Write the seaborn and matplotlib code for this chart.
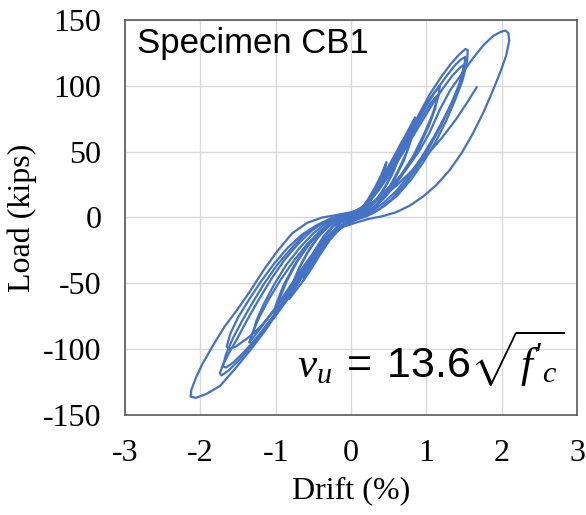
import numpy as np
import pandas as pd
import matplotlib
matplotlib.use('Agg')
import matplotlib.pyplot as plt
import seaborn as sns

# Cyclic test record, read off the picture cycle by cycle (drift %, load kips)
# 0.25 % cycles
a1_drift = [0, 0.07, 0.14, 0.21, 0.27, 0.25, 0.18, 0.10, 0.02, -0.06, -0.14, -0.21, -0.27, -0.25, -0.18, -0.10, 0]
a1_load = [0, 3, 7, 11, 16, 12, 6, 2, -1, -4, -8, -12, -16, -12, -6, -2, 0]
a2_drift = [0, 0.08, 0.16, 0.22, 0.26, 0.23, 0.15, 0.05, -0.05, -0.15, -0.22, -0.26, -0.23, -0.14, -0.05, 0]
a2_load = [0, 3, 8, 12, 15, 10, 4, 0, -3, -8, -12, -15, -10, -4, -1, 0]

# 0.5 % cycles
b1_drift = [0, 0.08, 0.16, 0.24, 0.32, 0.40, 0.47, 0.45, 0.40, 0.32, 0.22, 0.12, 0.02, -0.08, -0.18, -0.28,
            -0.38, -0.48, -0.56, -0.63, -0.61, -0.55, -0.46, -0.36, -0.25, -0.14, -0.05, 0]
b1_load = [0, 3, 8, 15, 23, 32, 42, 36, 27, 18, 10, 4, 0, -4, -9, -15,
           -23, -32, -40, -48, -42, -33, -23, -14, -7, -2, 0, 1]
b2_drift = [0, 0.10, 0.20, 0.30, 0.38, 0.45, 0.42, 0.34, 0.24, 0.13, 0.03, -0.08, -0.20, -0.32, -0.44, -0.53,
            -0.60, -0.57, -0.48, -0.36, -0.24, -0.12, 0]
b2_load = [1, 4, 10, 19, 28, 37, 30, 20, 11, 5, 0, -4, -10, -19, -29, -37,
           -44, -37, -26, -15, -7, -1, 1]

# 0.75 % cycles
c1_drift = [0, 0.10, 0.22, 0.34, 0.46, 0.57, 0.68, 0.66, 0.58, 0.47, 0.35, 0.22, 0.10, -0.02, -0.14, -0.28,
            -0.42, -0.56, -0.70, -0.82, -0.79, -0.70, -0.58, -0.44, -0.30, -0.16, -0.05, 0]
c1_load = [1, 4, 12, 22, 34, 46, 58, 50, 37, 25, 14, 6, 1, -3, -8, -17,
           -29, -42, -53, -62, -53, -40, -27, -15, -7, -1, 1, 2]
c2_drift = [0, 0.11, 0.23, 0.35, 0.47, 0.57, 0.66, 0.63, 0.54, 0.42, 0.29, 0.16, 0.04, -0.08, -0.22, -0.37,
            -0.52, -0.66, -0.80, -0.76, -0.66, -0.53, -0.38, -0.23, -0.09, 0]
c2_load = [1, 5, 13, 24, 36, 46, 54, 45, 32, 20, 10, 4, 0, -4, -10, -20,
           -33, -46, -58, -48, -35, -22, -11, -3, 1, 2]

# 1.0 % cycles
d1_drift = [0, 0.12, 0.25, 0.38, 0.50, 0.62, 0.74, 0.85, 0.83, 0.75, 0.63, 0.50, 0.36, 0.22, 0.08, -0.05,
            -0.18, -0.33, -0.50, -0.66, -0.80, -0.93, -1.03, -1.00, -0.90, -0.76, -0.60, -0.44, -0.28, -0.13, 0]
d1_load = [2, 6, 13, 24, 37, 51, 64, 76, 66, 51, 36, 22, 11, 4, 0, -4,
           -9, -18, -32, -46, -59, -69, -77, -67, -52, -37, -23, -12, -4, 0, 2]
d2_drift = [0, 0.13, 0.27, 0.40, 0.53, 0.65, 0.75, 0.82, 0.79, 0.70, 0.57, 0.43, 0.29, 0.15, 0.02, -0.12,
            -0.27, -0.43, -0.60, -0.75, -0.88, -0.98, -0.95, -0.85, -0.71, -0.55, -0.39, -0.23, -0.09, 0]
d2_load = [2, 7, 15, 26, 39, 52, 63, 70, 58, 43, 28, 16, 7, 2, -2, -7,
           -14, -26, -40, -53, -64, -72, -62, -48, -33, -20, -10, -3, 1, 2]

# 1.25 % cycles
g1_drift = [0, 0.15, 0.30, 0.45, 0.60, 0.75, 0.89, 1.02, 1.12, 1.18, 1.16, 1.08, 0.96, 0.82, 0.66, 0.50, 0.34,
            0.18, 0.04, -0.10, -0.26, -0.44, -0.64, -0.84, -1.03, -1.20, -1.31, -1.35, -1.31, -1.22, -1.09,
            -0.93, -0.76, -0.58, -0.40, -0.22, -0.07, 0]
g1_load = [2, 7, 16, 29, 44, 60, 75, 88, 96, 100, 92, 78, 62, 46, 32, 19, 9,
           3, -1, -5, -11, -22, -38, -55, -71, -84, -92, -95, -88, -76, -62,
           -47, -33, -20, -10, -3, 1, 2]
g2_drift = [0, 0.16, 0.32, 0.48, 0.64, 0.80, 0.94, 1.06, 1.15, 1.12, 1.03, 0.90, 0.75, 0.59, 0.43, 0.27, 0.12,
            -0.02, -0.17, -0.34, -0.53, -0.73, -0.93, -1.11, -1.24, -1.30, -1.26, -1.16, -1.02, -0.86, -0.68,
            -0.50, -0.32, -0.15, 0]
g2_load = [2, 8, 18, 31, 46, 62, 76, 87, 93, 83, 69, 53, 38, 25, 14, 6, 1,
           -3, -8, -17, -31, -47, -63, -77, -86, -88, -79, -66, -51, -36, -23,
           -12, -4, 0, 2]

# 1.5 % cycles
e1_drift = [0, 0.15, 0.30, 0.45, 0.60, 0.75, 0.90, 1.05, 1.20, 1.33, 1.44, 1.52, 1.55, 1.54, 1.48, 1.38, 1.26,
            1.12, 0.96, 0.80, 0.62, 0.45, 0.28, 0.12, -0.02, -0.16, -0.32, -0.50, -0.70, -0.90, -1.10, -1.30,
            -1.48, -1.62, -1.72, -1.74, -1.70, -1.62, -1.51, -1.38, -1.22, -1.05, -0.88, -0.70, -0.52, -0.34, -0.16, 0]
e1_load = [3, 7, 16, 29, 44, 61, 78, 94, 107, 117, 124, 128, 127, 118, 104, 89, 73,
           57, 42, 29, 17, 9, 3, 0, -3, -8, -16, -29, -46, -64, -81, -96,
           -108, -116, -120, -118, -112, -103, -92, -78, -62, -46, -32, -20, -10, -3, 1, 3]
e2_drift = [0, 0.16, 0.32, 0.48, 0.64, 0.80, 0.96, 1.11, 1.25, 1.37, 1.46, 1.52, 1.50, 1.43, 1.32, 1.19, 1.04,
            0.88, 0.71, 0.54, 0.37, 0.21, 0.06, -0.08, -0.24, -0.42, -0.62, -0.82, -1.02, -1.22, -1.40, -1.56,
            -1.66, -1.70, -1.66, -1.57, -1.45, -1.31, -1.15, -0.98, -0.80, -0.62, -0.44, -0.26, -0.10, 0]
e2_load = [3, 8, 18, 32, 48, 65, 81, 95, 106, 115, 120, 122, 114, 100, 85, 69, 53,
           38, 25, 14, 6, 1, -2, -6, -12, -23, -39, -57, -74, -89, -101, -110,
           -114, -113, -104, -92, -79, -65, -50, -36, -24, -13, -6, -1, 2, 3]
e3_drift = [0, 0.18, 0.36, 0.54, 0.72, 0.90, 1.07, 1.22, 1.35, 1.45, 1.50, 1.47, 1.38, 1.25, 1.10, 0.94, 0.77,
            0.60, 0.43, 0.26, 0.10, -0.05, -0.22, -0.40, -0.60, -0.80, -1.00, -1.20, -1.38, -1.53, -1.62, -1.65,
            -1.60, -1.50, -1.36, -1.20, -1.02, -0.84, -0.65, -0.46, -0.28, -0.12, 0]
e3_load = [3, 9, 20, 35, 52, 69, 85, 98, 108, 114, 116, 106, 92, 77, 61, 46, 32,
           20, 11, 4, 0, -4, -10, -20, -35, -52, -69, -83, -92, -98, -100, -98,
           -88, -76, -63, -49, -35, -23, -13, -6, -1, 2, 3]

# 2.0 % cycle and the last partial excursion
f1_drift = [0, 0.15, 0.30, 0.45, 0.60, 0.75, 0.90, 1.04, 1.18, 1.32, 1.47, 1.62, 1.76, 1.89, 1.99, 2.05, 2.09, 2.10,
            2.06, 1.98, 1.88, 1.76, 1.62, 1.47, 1.31, 1.14, 0.96, 0.78, 0.60, 0.42, 0.24, 0.06, -0.10, -0.26,
            -0.42, -0.58, -0.76, -0.95, -1.14, -1.34, -1.54, -1.74, -1.92, -2.06, -2.13, -2.12, -2.06, -1.97,
            -1.84, -1.68, -1.51, -1.34, -1.16, -0.97, -0.78, -0.58, -0.38, -0.18, 0]
f1_load = [3, 7, 12, 20, 28, 38, 50, 64, 82, 97, 109, 121, 131, 138, 141, 142, 140, 134,
           123, 110, 96, 80, 64, 49, 36, 25, 16, 9, 4, 1, -1, -4, -7, -13,
           -25, -38, -53, -70, -86, -101, -115, -128, -134, -137, -136, -131, -122, -111,
           -98, -83, -70, -56, -40, -25, -12, -4, 0, 2, 4]
f2_drift = [0, 0.20, 0.40, 0.60, 0.80, 1.00, 1.20, 1.40, 1.55, 1.67]
f2_load = [4, 8, 15, 24, 35, 47, 60, 75, 88, 99]

cycles = [(a1_drift, a1_load), (a2_drift, a2_load), (b1_drift, b1_load), (b2_drift, b2_load),
          (c1_drift, c1_load), (c2_drift, c2_load), (d1_drift, d1_load), (d2_drift, d2_load),
          (g1_drift, g1_load), (g2_drift, g2_load), (e1_drift, e1_load), (e2_drift, e2_load),
          (e3_drift, e3_load), (f1_drift, f1_load), (f2_drift, f2_load)]

frames = []
for i, (d, l) in enumerate(cycles):
    frames.append(pd.DataFrame({'drift': d, 'load': l, 'cycle': i}))
df = pd.concat(frames, ignore_index=True)

sns.set_style('white')
plt.rcParams['axes.unicode_minus'] = False
plt.rcParams['text.color'] = 'black'
plt.rcParams['axes.labelcolor'] = 'black'
plt.rcParams['mathtext.fontset'] = 'custom'
plt.rcParams['mathtext.rm'] = 'Liberation Sans'
plt.rcParams['mathtext.it'] = 'Liberation Serif:italic'

fig = plt.figure(figsize=(5.86, 5.15), dpi=100)
ax = fig.add_axes([0.2133, 0.1942, 0.7713, 0.767])

sns.lineplot(data=df, x='drift', y='load', units='cycle', estimator=None, sort=False,
             color='#4472C4', lw=1.6, ax=ax)

ax.set_xlim(-3, 3)
ax.set_ylim(-150, 150)
ax.set_xticks(range(-3, 4))
ax.set_yticks(range(-150, 151, 50))
ax.grid(True, color='#d9d9d9', lw=1)
ax.set_axisbelow(True)
for s in ax.spines.values():
    s.set_color('#595959')
    s.set_linewidth(1.2)

tick_font = {'family': 'Liberation Serif', 'size': 23}
ax.tick_params(axis='both', direction='inout', length=14, width=1, color='#595959', labelcolor='black', pad=10)
for lab in ax.get_xticklabels() + ax.get_yticklabels():
    lab.set_fontfamily('Liberation Serif')
    lab.set_fontsize(23)

ax.set_xlabel('Drift (%)', fontdict=tick_font, labelpad=6)
ax.set_ylabel('Load (kips)', fontdict=tick_font, labelpad=4)

ax.text(0.027, 0.916, 'Specimen CB1', transform=ax.transAxes, family='Liberation Sans',
        fontsize=25, ha='left', va='baseline')
ax.text(0.973, 0.094, r"$v_u\;=\;13.6\sqrt{{f'}_c}$", transform=ax.transAxes,
        fontsize=31, ha='right', va='baseline')

fig.savefig('out.png', dpi=100)
